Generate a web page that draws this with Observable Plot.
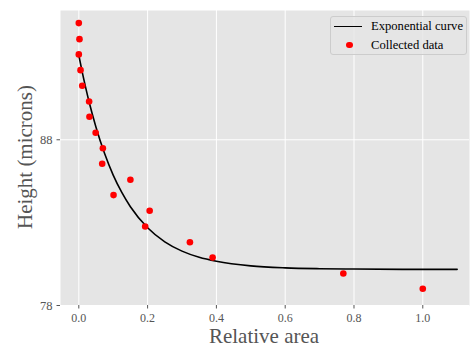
<!DOCTYPE html>
<html><head><meta charset="utf-8">
<script src="https://cdn.jsdelivr.net/npm/d3@7"></script>
<script src="https://cdn.jsdelivr.net/npm/@observablehq/plot@0.6"></script>
<style>
body{margin:0;background:#fff;}
#wrap{position:relative;width:470px;height:347px;font-family:"Liberation Serif","Times New Roman",serif;overflow:hidden;}
#wrap svg{position:absolute;left:0;top:0;}
.xlab{position:absolute;left:264px;top:329px;transform:translateX(-50%);font-size:21px;line-height:14px;color:#555;white-space:nowrap;}
.ylab{position:absolute;left:25px;top:157px;transform:translate(-50%,-50%) rotate(-90deg);font-size:21px;line-height:21px;color:#555;white-space:nowrap;}
.legend{position:absolute;left:330px;top:16px;width:137px;height:39px;box-sizing:border-box;border:1px solid #cccccc;border-radius:3px;background:rgba(229,229,229,0.8);font-size:12.6px;color:#000;}
.legend .row{position:absolute;left:40px;white-space:nowrap;line-height:13px;}
.legend .ln{position:absolute;left:3px;width:28px;height:0;border-top:1.6px solid #000;}
.legend .dt{position:absolute;left:15px;width:6.6px;height:6.6px;border-radius:50%;background:#ff0000;}
</style></head><body><div id="wrap"></div>
<script>
const xTicks = [0, 0.2, 0.4, 0.6, 0.8, 1.0];
const yTicks = [78, 88];
const dataX = [0.0, 0.002, 0.0, 0.005, 0.01, 0.03, 0.031, 0.049, 0.07, 0.068, 0.15, 0.101, 0.206, 0.193, 0.323, 0.389, 0.769, 1.0];
const dataY = [95.04, 94.07, 93.15, 92.20, 91.26, 90.31, 89.39, 88.42, 87.49, 86.55, 85.59, 84.66, 83.72, 82.77, 81.82, 80.90, 79.93, 79.01];
const curveX = [0, 0.01, 0.02, 0.03, 0.05, 0.075, 0.1, 0.125, 0.15, 0.2, 0.25, 0.3, 0.35, 0.4, 0.5, 0.6, 0.7, 0.8, 1.0, 1.1];
const curveY = [93.10, 92.08, 91.15, 90.28, 88.76, 87.17, 85.87, 84.82, 83.96, 82.69, 81.84, 81.28, 80.91, 80.67, 80.39, 80.27, 80.22, 80.20, 80.18, 80.18];
const legendLabels = ["Exponential curve", "Collected data"];
const axisLabels = {x: "Relative area", y: "Height (microns)"};

const points = dataX.map((x, i) => ({x, y: dataY[i]}));
const curve = curveX.map((x, i) => ({x, y: curveY[i]}));

const chart = Plot.plot({
  width: 470, height: 347,
  marginLeft: 60, marginRight: 1, marginTop: 10, marginBottom: 42,
  style: {fontFamily: '"Liberation Serif","Times New Roman",serif', background: "transparent"},
  x: {domain: [-0.0532, 1.1358]},
  y: {domain: [78, 95.8]},
  marks: [
    Plot.frame({fill: "#E5E5E5", stroke: null}),
    Plot.gridX(xTicks, {stroke: "#fff", strokeOpacity: 1, strokeWidth: 1}),
    Plot.gridY(yTicks, {stroke: "#fff", strokeOpacity: 1, strokeWidth: 1}),
    Plot.axisX(xTicks, {tickSize: 3.5, tickPadding: 4, fontSize: 12, tickFormat: d3.format(".1f"), stroke: "#555", fill: "#555", label: null}),
    Plot.axisY(yTicks, {tickSize: 3.5, tickPadding: 4.5, fontSize: 12.5, tickFormat: d3.format("d"), stroke: "#555", fill: "#555", label: null}),
    Plot.line(curve, {x: "x", y: "y", stroke: "#000", strokeWidth: 1.6, curve: "monotone-x"}),
    Plot.dot(points, {x: "x", y: "y", r: 3.3, fill: "#ff0000", stroke: null})
  ]
});

const wrap = document.getElementById("wrap");
wrap.appendChild(chart);
const xl = document.createElement("div"); xl.className = "xlab"; xl.textContent = axisLabels.x; wrap.appendChild(xl);
const yl = document.createElement("div"); yl.className = "ylab"; yl.textContent = axisLabels.y; wrap.appendChild(yl);
const lg = document.createElement("div"); lg.className = "legend";
lg.innerHTML = `<div class="ln" style="top:9px"></div><div class="row" style="top:3px">${legendLabels[0]}</div>
<div class="dt" style="top:24.5px"></div><div class="row" style="top:21.5px">${legendLabels[1]}</div>`;
wrap.appendChild(lg);
</script>
</body></html>
